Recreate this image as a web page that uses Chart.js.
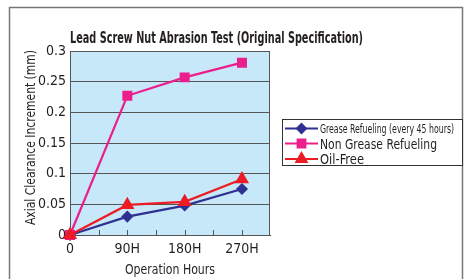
<!DOCTYPE html>
<html>
<head>
<meta charset="utf-8">
<script src="https://cdn.jsdelivr.net/npm/chart.js@4"></script>
<style>
  html, body { margin: 0; padding: 0; background: #fff; }
  #wrap { width: 465px; height: 279px; }
</style>
</head>
<body>
<div id="wrap"><canvas id="myChart" width="465" height="279"></canvas></div>
<script>
    // data
    var hours = [0, 90, 180, 270];
    var hourLabels = ['0', '90H', '180H', '270H'];
    var greaseRefueling = [0, 0.030, 0.048, 0.075];
    var nonGrease = [0, 0.227, 0.257, 0.281];
    var oilFree = [0, 0.049, 0.054, 0.091];
    var yTicks = [0, 0.05, 0.1, 0.15, 0.2, 0.25, 0.3];

    var narrow = "'Liberation Sans Narrow', 'DejaVu Sans Condensed', sans-serif";
    Chart.defaults.font.family = narrow;
    Chart.defaults.color = '#231f20';

    function toPoints(vals) {
      return vals.map(function (v, i) { return { x: hours[i], y: v }; });
    }

    var deco = {
      id: 'deco',
      beforeDraw: function (chart) {
        var ctx = chart.ctx, a = chart.chartArea;
        ctx.save();
        ctx.fillStyle = '#fff';
        ctx.fillRect(0, 0, chart.width, chart.height);
        // outer frame
        ctx.strokeStyle = '#777';
        ctx.lineWidth = 1.5;
        ctx.beginPath();
        ctx.moveTo(9.5, 290); ctx.lineTo(9.5, 7.5); ctx.lineTo(462.5, 7.5); ctx.lineTo(462.5, 290);
        ctx.stroke();
        // plot background
        ctx.fillStyle = '#c7e8f8';
        ctx.fillRect(a.left, a.top, a.right - a.left, a.bottom - a.top);
        ctx.restore();
      },
      beforeDatasetsDraw: function (chart) {
        var ctx = chart.ctx, a = chart.chartArea, xs = chart.scales.x;
        ctx.save();
        ctx.strokeStyle = '#555';
        ctx.lineWidth = 1;
        ctx.beginPath();
        ctx.moveTo(Math.round(a.right) - 0.5, a.top);
        ctx.lineTo(Math.round(a.right) - 0.5, a.bottom);
        ctx.moveTo(a.left, Math.round(a.top) + 0.5);
        ctx.lineTo(a.right, Math.round(a.top) + 0.5);
        // inside tick marks every 45 hours
        xs.ticks.forEach(function (t) {
          var px = Math.round(xs.getPixelForValue(t.value)) + 0.5;
          ctx.moveTo(px, a.bottom);
          ctx.lineTo(px, a.bottom - 5);
        });
        ctx.stroke();
        ctx.restore();
      },
      afterDraw: function (chart) {
        var ctx = chart.ctx, a = chart.chartArea;
        ctx.save();
        ctx.fillStyle = '#231f20';
        // title
        ctx.font = 'bold 15.5px ' + narrow;
        ctx.textBaseline = 'alphabetic';
        ctx.fillText('Lead Screw Nut Abrasion Test (Original Specification)', a.left, 43, 293);
        // axis titles
        ctx.font = '14.5px ' + narrow;
        ctx.textAlign = 'center';
        ctx.textBaseline = 'middle';
        ctx.fillText('Operation Hours', (a.left + a.right) / 2, 270, 90);
        ctx.save();
        ctx.translate(31, 137.5);
        ctx.rotate(-Math.PI / 2);
        ctx.font = '14px ' + narrow;
        ctx.fillText('Axial Clearance Increment (mm)', 0, 0, 175);
        ctx.restore();
        ctx.textAlign = 'left';
        ctx.textBaseline = 'alphabetic';
        // legend
        ctx.fillStyle = '#fff';
        ctx.fillRect(282.5, 119.5, 180, 46);
        ctx.strokeStyle = '#333';
        ctx.lineWidth = 1;
        ctx.strokeRect(282.5, 119.5, 180, 46);
        var rows = [
          { y: 128.5, base: 133, font: '12.5px ', w: 134 },
          { y: 143.5, base: 149, font: '14px ', w: 117 },
          { y: 159, base: 164, font: '14px ', w: 44 }
        ];
        chart.data.datasets.forEach(function (ds, i) {
          var r = rows[i];
          ctx.strokeStyle = ds.borderColor;
          ctx.lineWidth = 2;
          ctx.beginPath();
          ctx.moveTo(285, r.y);
          ctx.lineTo(318, r.y);
          ctx.stroke();
          ctx.fillStyle = ds.borderColor;
          Chart.helpers.drawPoint(ctx, {
            pointStyle: ds.pointStyle, radius: ds.pointRadius, rotation: 0, borderWidth: 1
          }, 301.5, r.y);
          ctx.fillStyle = '#231f20';
          ctx.font = r.font + narrow;
          var w = ctx.measureText(ds.label).width;
          ctx.fillText(ds.label, 320, r.base, Math.min(w, r.w));
        });
        ctx.restore();
      }
    };

    var ctx = document.getElementById('myChart').getContext('2d');
    var chart = new Chart(ctx, {
        type: 'line',
        data: {
            datasets: [{
                label: 'Grease Refueling (every 45 hours)',
                data: toPoints(greaseRefueling),
                borderColor: '#2e3192',
                backgroundColor: '#2e3192',
                pointBackgroundColor: '#2e3192',
                pointStyle: 'rectRot',
                pointRadius: 4.5,
                borderWidth: 2.2,
                clip: false,
                order: 3
              },
              {
                label: 'Non Grease Refueling',
                data: toPoints(nonGrease),
                borderColor: '#ec1e8c',
                backgroundColor: '#ec1e8c',
                pointBackgroundColor: '#ec1e8c',
                pointStyle: 'rect',
                pointRadius: 5.5,
                borderWidth: 2.2,
                clip: false,
                order: 2
              },
              {
                label: 'Oil-Free',
                data: toPoints(oilFree),
                borderColor: '#ed1c24',
                backgroundColor: '#ed1c24',
                pointBackgroundColor: '#ed1c24',
                pointStyle: 'triangle',
                pointRadius: 6,
                borderWidth: 2.2,
                clip: false,
                order: 1
              }
            ]
        },
        options: {
            responsive: false,
            animation: false,
            layout: { padding: { left: 0, top: 51, right: 195, bottom: 0 } },
            plugins: {
                legend: { display: false },
                tooltip: { enabled: false }
            },
            scales: {
                x: {
                    type: 'linear',
                    min: 0,
                    max: 314,
                    afterBuildTicks: function (scale) {
                        scale.ticks = [0, 45, 90, 135, 180, 225, 270].map(function (v) { return { value: v }; });
                    },
                    afterFit: function (scale) { scale.height = 44; },
                    grid: { display: false, drawTicks: false },
                    border: { display: true, color: '#555', width: 1 },
                    ticks: {
                        padding: 6,
                        autoSkip: false,
                        maxRotation: 0,
                        font: { size: 14 },
                        callback: function (v) {
                            var i = hours.indexOf(v);
                            return i >= 0 ? hourLabels[i] : '';
                        }
                    }
                },
                y: {
                    min: 0,
                    max: 0.3,
                    afterBuildTicks: function (scale) {
                        scale.ticks = yTicks.map(function (v) { return { value: v }; });
                    },
                    afterFit: function (scale) { scale.width = 70; },
                    grid: { color: '#555', lineWidth: 1, drawTicks: false },
                    border: { display: true, color: '#555', width: 1 },
                    ticks: {
                        padding: 4,
                        font: { size: 14 },
                        callback: function (v) { return String(+v.toFixed(2)); }
                    }
                }
            }
        },
        plugins: [deco]
    });
</script>
</body>
</html>
